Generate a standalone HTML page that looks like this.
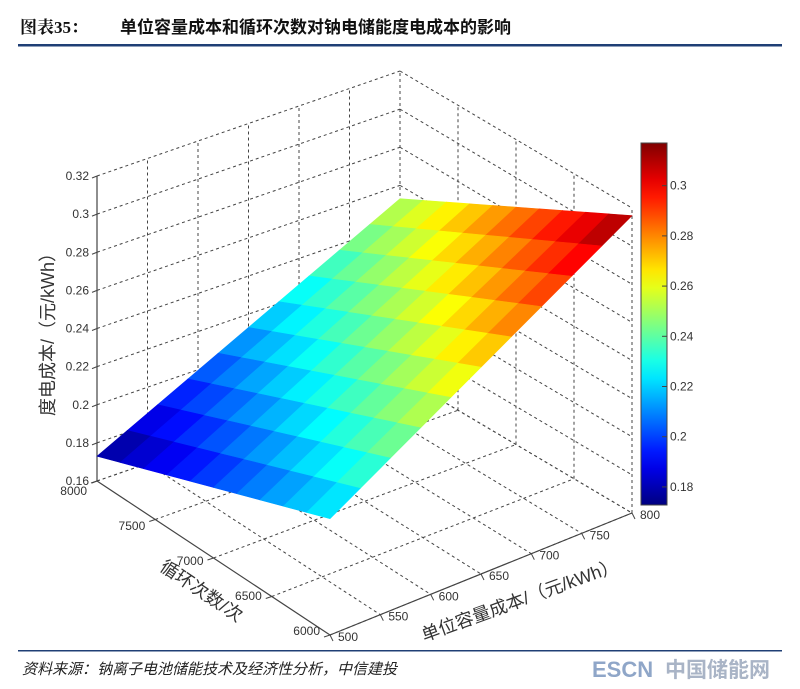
<!DOCTYPE html>
<html><head><meta charset="utf-8"><style>
body{margin:0;background:#fff;width:800px;height:684px;overflow:hidden;font-family:"Liberation Sans","Noto Sans CJK SC",sans-serif}
</style></head><body>
<svg id="s" width="800" height="684" xmlns="http://www.w3.org/2000/svg" font-family="Liberation Sans, Noto Sans CJK SC, sans-serif">
<text x="20" y="33" font-size="17" font-weight="bold" fill="#111" font-family="Liberation Serif, Noto Serif CJK SC, serif">图表35：</text>
<text x="120" y="33" font-size="17" font-weight="bold" fill="#111" font-family="Liberation Sans, Noto Sans CJK SC, sans-serif">单位容量成本和循环次数对钠电储能度电成本的影响</text>
<rect x="18" y="44" width="764" height="2.5" fill="#1f3f75"/>
<rect x="18" y="650" width="764" height="1.5" fill="#1f3f75"/>
<text x="22" y="674" font-size="15" font-style="italic" fill="#222">资料来源：钠离子电池储能技术及经济性分析，中信建投</text>
<text x="592" y="677" font-size="22" font-weight="bold" fill="#8fa6c8">ESCN</text>
<text x="665" y="677" font-size="21" font-weight="bold" fill="#a9b4c6">中国储能网</text>
<g id="g"></g>
</svg>
<script>
var g=document.getElementById('g'),NS='http://www.w3.org/2000/svg';
var A=[97,481],B=[400,376],C=[330,635],D=[632,513],H=305;
function P(u,v,w){var x=A[0]*(1-u)*(1-v)+B[0]*u*(1-v)+C[0]*(1-u)*v+D[0]*u*v;
var y=A[1]*(1-u)*(1-v)+B[1]*u*(1-v)+C[1]*(1-u)*v+D[1]*u*v;return [x,y-w*H];}
function el(t,a){var e=document.createElementNS(NS,t);for(var k in a)e.setAttribute(k,a[k]);g.appendChild(e);return e;}
function line(p,q,dash,c,w){el('line',{x1:p[0],y1:p[1],x2:q[0],y2:q[1],stroke:c||'#444','stroke-width':w||1,'stroke-dasharray':dash?'3,3':'none'});}
function txt(x,y,s,o){o=o||{};var e=el('text',{x:x,y:y,'font-size':o.fs||12,fill:'#333','text-anchor':o.a||'start'});if(o.tr)e.setAttribute('transform',o.tr);e.textContent=s;}
for(var i=0;i<=8;i++){var w=i/8;line(P(0,0,w),P(1,0,w),1);line(P(1,0,w),P(1,1,w),1);}
for(var i=1;i<=6;i++){var u=i/6;line(P(u,0,0),P(u,0,1),1);line(P(u,0,0),P(u,1,0),1);}
for(var i=0;i<=4;i++){var v=i/4;line(P(1,v,0),P(1,v,1),1);line(P(0,v,0),P(1,v,0),1);}
line(P(0,0,0),P(0,0,1),0,'#444',1.2);line(P(0,0,0),P(0,1,0),0,'#444',1.2);line(P(0,1,0),P(1,1,0),0,'#444',1.2);
for(var i=0;i<=8;i++){var p=P(0,0,i/8);line(p,[p[0]-5,p[1]+2],0);txt(p[0]-8,p[1]+4,(0.16+0.02*i).toFixed(2).replace(/0$/,'').replace(/\.0?$/,''),{a:'end'});}
var cy=['8000','7500','7000','6500','6000'];
for(var i=0;i<=4;i++){var v=i/4,p=P(0,v,0);line(p,[p[0]-6,p[1]+2],0);txt(p[0]-10,p[1]+14-14*v,cy[i],{a:'end'});}
for(var i=0;i<=6;i++){var p=P(i/6,1,0);line(p,[p[0]+3,p[1]+6],0);txt(p[0]+8,p[1]+6,String(500+50*i));}
function zf(u,v){var z00=0.173,z10=0.253,z01=0.221,z11=0.316;return z00*(1-u)*(1-v)+z10*u*(1-v)+z01*(1-u)*v+z11*u*v;}
function jet(t){t=Math.max(0,Math.min(1,t));function f(x){return Math.max(0,Math.min(1,1.5-Math.abs(4*t-x)));}
return 'rgb('+Math.round(255*f(3))+','+Math.round(255*f(2))+','+Math.round(255*f(1))+')';}
var cmin=0.1728,cmax=0.317,N=10;
for(var j=0;j<N;j++)for(var i=N-1;i>=0;i--){var u0=i/N,u1=(i+1)/N,v0=j/N,v1=(j+1)/N;
var pts=[[u0,v0],[u1,v0],[u1,v1],[u0,v1]].map(function(q){var z=zf(q[0],q[1]);return P(q[0],q[1],(z-0.16)/0.16).join(',');}).join(' ');
var zc=zf((u0+u1)/2,(v0+v1)/2);el('polygon',{points:pts,fill:jet((zc-cmin)/(cmax-cmin)),stroke:jet((zc-cmin)/(cmax-cmin)),'stroke-width':0.6});}
var d=el('defs',{});var lg=document.createElementNS(NS,'linearGradient');lg.setAttribute('id','cb');lg.setAttribute('x1',0);lg.setAttribute('y1',1);lg.setAttribute('x2',0);lg.setAttribute('y2',0);
for(var k=0;k<=20;k++){var s=document.createElementNS(NS,'stop');s.setAttribute('offset',k/20);s.setAttribute('stop-color',jet(k/20));lg.appendChild(s);}d.appendChild(lg);
el('rect',{x:641,y:143,width:26,height:362,fill:'url(#cb)',stroke:'#444','stroke-width':1});
var cl=[0.18,0.2,0.22,0.24,0.26,0.28,0.3];
cl.forEach(function(z){var y=505-(z-cmin)/(cmax-cmin)*362;line([662,y],[667,y],0);txt(670,y+4,String(z));});
txt(0,0,'度电成本/（元/kWh）',{fs:18,a:'middle',tr:'translate(54,330) rotate(-90)'});
txt(0,0,'循环次数/次',{fs:18,a:'middle',tr:'translate(198,596) rotate(34)'});
txt(0,0,'单位容量成本/（元/kWh）',{fs:18,a:'middle',tr:'translate(522,606) rotate(-20)'});
</script>
</body></html>
